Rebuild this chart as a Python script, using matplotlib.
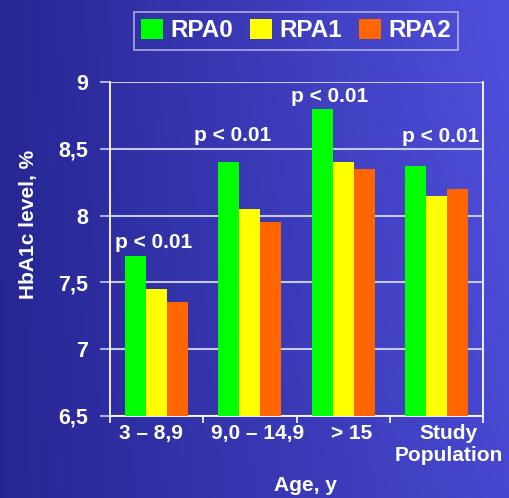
import matplotlib.pyplot as plt
import matplotlib.transforms as mtransforms
import numpy as np

# data
groups = ['3 – 8,9', '9,0 – 14,9', '> 15', 'Study\nPopulation']
rpa0 = [7.70, 8.40, 8.80, 8.37]
rpa1 = [7.45, 8.05, 8.40, 8.15]
rpa2 = [7.35, 7.95, 8.35, 8.20]
p_text = ['p < 0.01', 'p < 0.01', 'p < 0.01', 'p < 0.01']
p_y = [7.80, 8.60, 8.89, 8.59]
p_dx = [-0.03, -0.19, -0.15, 0.04]
label_shift_px = [-6, 8, 8, 12]

series = [('RPA0', rpa0, '#00ff00'),
          ('RPA1', rpa1, '#ffff00'),
          ('RPA2', rpa2, '#ff6600')]

plt.rcParams['font.family'] = ['Liberation Sans', 'DejaVu Sans']
plt.rcParams['font.weight'] = 'bold'

fig = plt.figure(figsize=(5.09, 4.98), dpi=100)

# gradient background
bg = fig.add_axes([0, 0, 1, 1], zorder=-10)
xx, yy = np.meshgrid(np.linspace(0, 1, 256), np.linspace(0, 1, 256))
t = np.clip(0.8 * xx + 0.2 * (1 - yy) * xx + 0.05, 0, 1)
c0 = np.array([0x24, 0x24, 0x90]) / 255
c1 = np.array([0x4e, 0x4e, 0xda]) / 255
img = c0[None, None, :] * (1 - t[..., None]) + c1[None, None, :] * t[..., None]
bg.imshow(img, aspect='auto', extent=[0, 1, 0, 1], origin='upper')
bg.axis('off')

ax = fig.add_axes([0.2161, 0.1647, 0.7329, 0.6706])
ax.set_facecolor('none')

x = np.arange(len(groups))
w = 0.225
for i, (name, vals, col) in enumerate(series):
    ax.bar(x + (i - 1) * w, np.array(vals) - 6.5, width=w, bottom=6.5,
           color=col, label=name, zorder=3)

for xi, dx, yv, s in zip(x, p_dx, p_y, p_text):
    ax.text(xi + dx, yv, s, color='white', fontsize=15, fontweight='bold',
            ha='center', va='center', zorder=4)

ax.set_ylim(6.5, 9)
ax.set_xlim(-0.5, len(groups) - 0.5)
yt = [6.5, 7, 7.5, 8, 8.5, 9]
ax.set_yticks(yt)
ax.set_yticklabels([f'{v:g}'.replace('.', ',') for v in yt])
ax.set_xticks(x)
ax.set_xticklabels(groups)
ax.set_xticks(np.arange(-0.5, len(groups), 1), minor=True)
ax.tick_params(axis='x', which='major', length=0, pad=6, colors='white',
               labelsize=15)
ax.tick_params(axis='x', which='minor', length=5, width=1.2, color='white')
ax.tick_params(axis='y', length=7.2, width=1.2, color='#c8c8e8', colors='white',
               labelsize=15.5, pad=8.6)
for lab in ax.get_xticklabels() + ax.get_yticklabels():
    lab.set_fontweight('bold')
    lab.set_color('white')
for lab, dx in zip(ax.get_xticklabels(), label_shift_px):
    lab.set_transform(lab.get_transform() +
                      mtransforms.ScaledTranslation(dx / 100, 0,
                                                    fig.dpi_scale_trans))

ax.yaxis.grid(True, color='#c8c8ec', linewidth=1.5, zorder=0)
for side in ['left', 'bottom', 'right']:
    ax.spines[side].set_color('white')
    ax.spines[side].set_linewidth(1.3)
ax.spines['top'].set_visible(False)

ax.set_ylabel('HbA1c level, %', color='white', fontsize=15, fontweight='bold',
              va='center')
ax.set_xlabel('Age, y', color='white', fontsize=15, fontweight='bold',
              va='center')
ax.yaxis.set_label_coords(-0.218, 0.574)
ax.xaxis.set_label_coords(0.523, -0.207)

leg = fig.legend(loc='center', bbox_to_anchor=(0.582, 0.9385), ncol=3,
                 frameon=True, handlelength=0.9, handleheight=0.9,
                 handletextpad=0.3, columnspacing=0.7, borderpad=0.3,
                 prop={'weight': 'bold', 'size': 17.5})
leg.get_frame().set_facecolor('none')
leg.get_frame().set_edgecolor('#c8c8e8')
leg.get_frame().set_linewidth(1.2)
leg.get_frame().set_boxstyle('square', pad=0)
for txt in leg.get_texts():
    txt.set_color('white')

fig.savefig('out.png', dpi=100)
